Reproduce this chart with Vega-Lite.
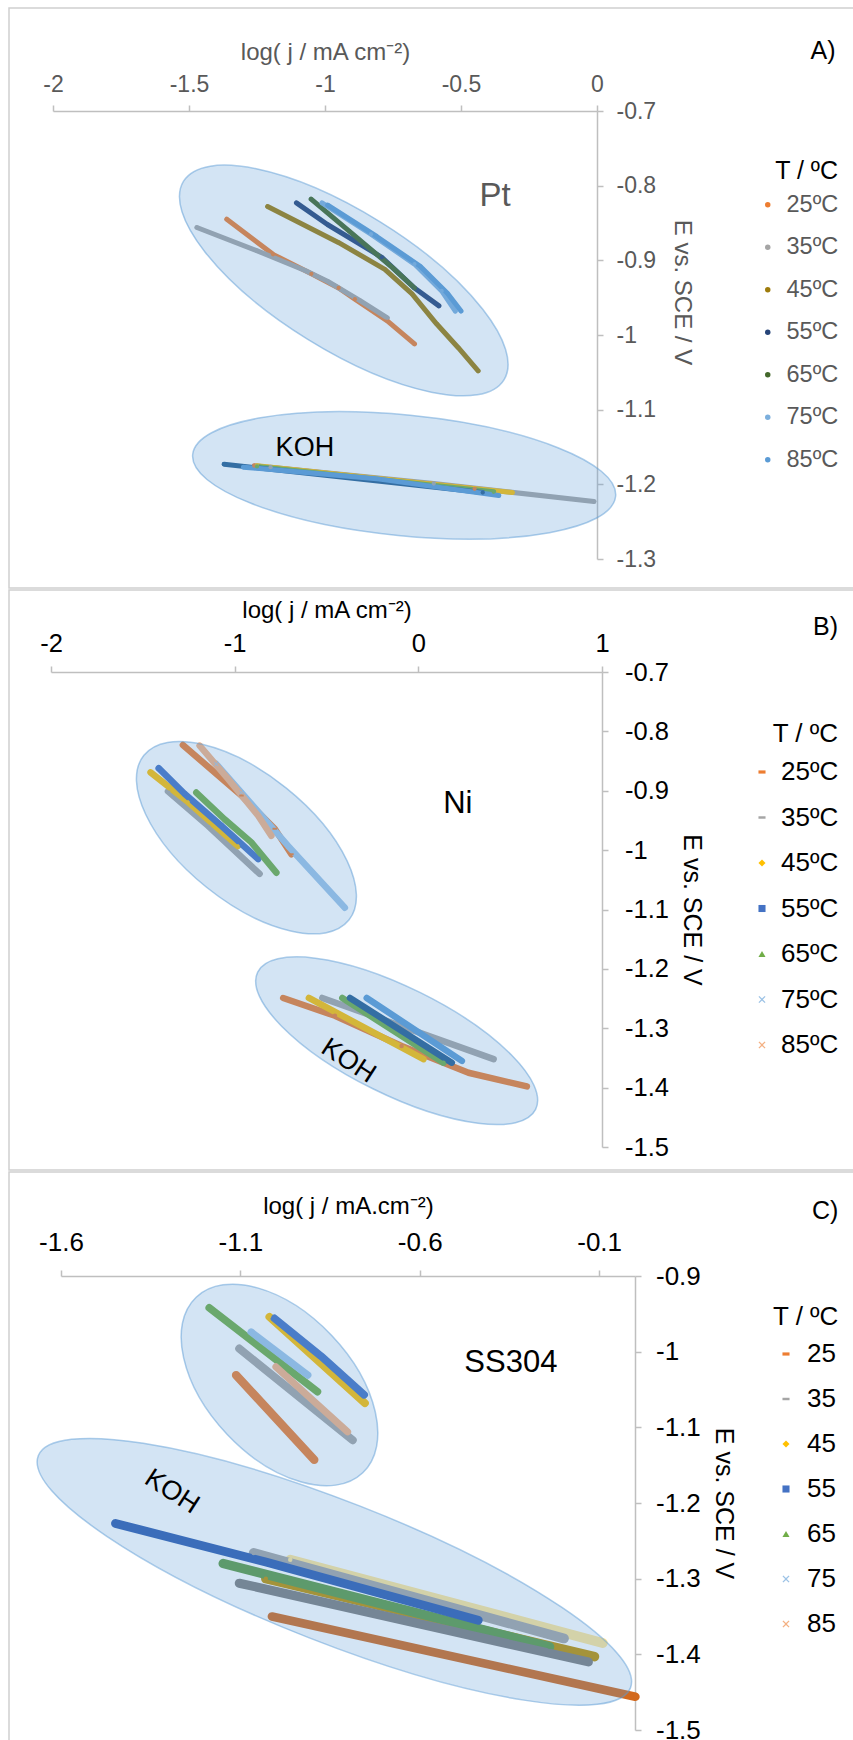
{
  "$schema": "https://vega.github.io/schema/vega-lite/v6.json",
  "padding": {"left": 8, "top": 7, "right": 0, "bottom": 0},
  "background": "white",
  "spacing": 0,
  "resolve": {"scale": {"color": "independent", "stroke": "independent", "shape": "independent", "strokeWidth": "independent", "x": "independent", "y": "independent"}, "legend": {"color": "independent", "stroke": "independent", "shape": "independent", "strokeWidth": "independent"}},
  "config": {
    "font": "Liberation Sans",
    "view": {"stroke": "#D0D0D0", "strokeWidth": 1.5},
    "axis": {"grid": false, "domainColor": "#BFBFBF", "domainWidth": 1.5, "tickColor": "#BFBFBF", "tickWidth": 1.5, "tickSize": 6, "labelFont": "Liberation Sans", "titleFont": "Liberation Sans", "titleFontWeight": "normal", "labelFlush": false, "labelOverlap": false, "labelBound": false},
    "legend": {"labelFont": "Liberation Sans", "titleFont": "Liberation Sans", "titleFontWeight": "normal", "padding": 0, "direction": "vertical"}
  },
  "datasets": {
    "A": [
      {"s": "25ºC", "x": -1.361, "y": -0.845}, {"s": "25ºC", "x": -1.191, "y": -0.892}, {"s": "25ºC", "x": -1.05, "y": -0.918}, {"s": "25ºC", "x": -0.95, "y": -0.937}, {"s": "25ºC", "x": -0.89, "y": -0.952}, {"s": "25ºC", "x": -0.771, "y": -0.981}, {"s": "25ºC", "x": -0.671, "y": -1.012},
      {"s": "35ºC", "x": -1.471, "y": -0.856}, {"s": "35ºC", "x": -1.251, "y": -0.887}, {"s": "35ºC", "x": -1.071, "y": -0.914}, {"s": "35ºC", "x": -0.991, "y": -0.928}, {"s": "35ºC", "x": -0.871, "y": -0.954}, {"s": "35ºC", "x": -0.771, "y": -0.977},
      {"s": "45ºC", "x": -1.211, "y": -0.828}, {"s": "45ºC", "x": -0.951, "y": -0.876}, {"s": "45ºC", "x": -0.78, "y": -0.912}, {"s": "45ºC", "x": -0.68, "y": -0.945}, {"s": "45ºC", "x": -0.59, "y": -0.985}, {"s": "45ºC", "x": -0.51, "y": -1.017}, {"s": "45ºC", "x": -0.437, "y": -1.048},
      {"s": "55ºC", "x": -1.105, "y": -0.823}, {"s": "55ºC", "x": -0.991, "y": -0.852}, {"s": "55ºC", "x": -0.791, "y": -0.896}, {"s": "55ºC", "x": -0.671, "y": -0.937}, {"s": "55ºC", "x": -0.581, "y": -0.961},
      {"s": "65ºC", "x": -1.051, "y": -0.818}, {"s": "65ºC", "x": -0.911, "y": -0.861}, {"s": "65ºC", "x": -0.751, "y": -0.91}, {"s": "65ºC", "x": -0.671, "y": -0.937},
      {"s": "75ºC", "x": -1.011, "y": -0.823}, {"s": "75ºC", "x": -0.831, "y": -0.865}, {"s": "75ºC", "x": -0.671, "y": -0.905}, {"s": "75ºC", "x": -0.571, "y": -0.941}, {"s": "75ºC", "x": -0.521, "y": -0.968},
      {"s": "85ºC", "x": -0.99, "y": -0.826}, {"s": "85ºC", "x": -0.81, "y": -0.868}, {"s": "85ºC", "x": -0.65, "y": -0.908}, {"s": "85ºC", "x": -0.55, "y": -0.944}, {"s": "85ºC", "x": -0.5, "y": -0.968},
      {"s": "KA35", "x": -1.2, "y": -1.177}, {"s": "KA35", "x": -0.6, "y": -1.199}, {"s": "KA35", "x": -0.011, "y": -1.223},
      {"s": "KA25", "x": -1.26, "y": -1.175}, {"s": "KA25", "x": -0.45, "y": -1.206},
      {"s": "KA45", "x": -1.25, "y": -1.175}, {"s": "KA45", "x": -0.311, "y": -1.211},
      {"s": "KA65", "x": -1.25, "y": -1.176}, {"s": "KA65", "x": -0.38, "y": -1.21},
      {"s": "KA55", "x": -1.371, "y": -1.173}, {"s": "KA55", "x": -0.42, "y": -1.211},
      {"s": "KA85", "x": -1.3, "y": -1.177}, {"s": "KA85", "x": -0.8, "y": -1.193}, {"s": "KA85", "x": -0.361, "y": -1.215}
    ],
    "B": [
      {"s": "25ºC", "x": -1.282, "y": -0.823}, {"s": "25ºC", "x": -0.963, "y": -0.908}, {"s": "25ºC", "x": -0.782, "y": -0.964}, {"s": "25ºC", "x": -0.691, "y": -1.007},
      {"s": "35ºC", "x": -1.363, "y": -0.901}, {"s": "35ºC", "x": -1.145, "y": -0.959}, {"s": "35ºC", "x": -0.864, "y": -1.04},
      {"s": "45ºC", "x": -1.458, "y": -0.869}, {"s": "45ºC", "x": -1.254, "y": -0.919}, {"s": "45ºC", "x": -0.982, "y": -0.993},
      {"s": "55ºC", "x": -1.414, "y": -0.862}, {"s": "55ºC", "x": -1.273, "y": -0.905}, {"s": "55ºC", "x": -1.073, "y": -0.959}, {"s": "55ºC", "x": -0.872, "y": -1.015},
      {"s": "65ºC", "x": -1.209, "y": -0.903}, {"s": "65ºC", "x": -1.055, "y": -0.948}, {"s": "65ºC", "x": -0.909, "y": -0.987}, {"s": "65ºC", "x": -0.773, "y": -1.038},
      {"s": "75ºC", "x": -1.1, "y": -0.855}, {"s": "75ºC", "x": -0.963, "y": -0.903}, {"s": "75ºC", "x": -0.709, "y": -0.993}, {"s": "75ºC", "x": -0.4, "y": -1.097},
      {"s": "85ºC", "x": -1.191, "y": -0.824}, {"s": "85ºC", "x": -1.036, "y": -0.88}, {"s": "85ºC", "x": -0.872, "y": -0.942}, {"s": "85ºC", "x": -0.8, "y": -0.976},
      {"s": "KB25", "x": -0.736, "y": -1.249}, {"s": "KB25", "x": -0.454, "y": -1.279}, {"s": "KB25", "x": -0.091, "y": -1.33}, {"s": "KB25", "x": 0.273, "y": -1.375}, {"s": "KB25", "x": 0.591, "y": -1.398},
      {"s": "KB35", "x": -0.523, "y": -1.249}, {"s": "KB35", "x": 0.41, "y": -1.352},
      {"s": "KB45", "x": -0.596, "y": -1.249}, {"s": "KB45", "x": 0.028, "y": -1.352},
      {"s": "KB65", "x": -0.414, "y": -1.249}, {"s": "KB65", "x": 0.137, "y": -1.358},
      {"s": "KB55", "x": -0.372, "y": -1.249}, {"s": "KB55", "x": 0.182, "y": -1.358},
      {"s": "KB85", "x": -0.281, "y": -1.249}, {"s": "KB85", "x": 0.237, "y": -1.355}
    ],
    "C": [
      {"s": "25", "x": -1.112, "y": -1.031}, {"s": "25", "x": -0.894, "y": -1.143},
      {"s": "35", "x": -1.103, "y": -0.996}, {"s": "35", "x": -0.787, "y": -1.117},
      {"s": "45", "x": -1.019, "y": -0.954}, {"s": "45", "x": -0.753, "y": -1.068},
      {"s": "55", "x": -1.005, "y": -0.956}, {"s": "55", "x": -0.875, "y": -1.006}, {"s": "55", "x": -0.755, "y": -1.057},
      {"s": "65", "x": -1.187, "y": -0.942}, {"s": "65", "x": -0.885, "y": -1.053},
      {"s": "75", "x": -1.07, "y": -0.974}, {"s": "75", "x": -0.912, "y": -1.031},
      {"s": "85", "x": -1.001, "y": -1.02}, {"s": "85", "x": -0.801, "y": -1.106},
      {"s": "Kpale", "x": -0.961, "y": -1.275}, {"s": "Kpale", "x": -0.09, "y": -1.385},
      {"s": "K35c", "x": -1.063, "y": -1.266}, {"s": "K35c", "x": -0.198, "y": -1.379},
      {"s": "Kdy", "x": -1.029, "y": -1.3}, {"s": "Kdy", "x": -0.113, "y": -1.403},
      {"s": "K65c", "x": -1.148, "y": -1.28}, {"s": "K65c", "x": -0.238, "y": -1.39},
      {"s": "Ktri", "x": -1.103, "y": -1.306}, {"s": "Ktri", "x": -0.13, "y": -1.41},
      {"s": "K55x", "x": -1.448, "y": -1.227}, {"s": "K55x", "x": -1.029, "y": -1.278}, {"s": "K55x", "x": -0.437, "y": -1.355},
      {"s": "K25", "x": -1.012, "y": -1.35}, {"s": "K25", "x": 0.001, "y": -1.456}
    ]
  },
  "vconcat": [
    {
      "width": 850, "height": 580,
      "encoding": {
        "x": {"field": "x", "type": "quantitative", "scale": {"domain": [-2, 0], "range": [44, 588], "nice": false, "zero": false},
          "axis": {"orient": "top", "offset": -103, "values": [-2, -1.5, -1, -0.5, 0], "labelExpr": "toString(datum.value)", "labelFontSize": 23, "labelColor": "#595959", "labelPadding": 9, "title": "log( j / mA cm⁻²)", "titleFontSize": 24, "titleColor": "#595959", "titlePadding": 9}},
        "y": {"field": "y", "type": "quantitative", "scale": {"domain": [-1.3, -0.7], "range": [551, 103], "nice": false, "zero": false},
          "axis": {"orient": "right", "offset": -262, "values": [-0.7, -0.8, -0.9, -1, -1.1, -1.2, -1.3], "labelExpr": "toString(datum.value)", "labelFontSize": 23, "labelColor": "#595959", "labelPadding": 13, "title": "E vs. SCE / V", "titleFontSize": 24, "titleColor": "#595959", "titlePadding": 12, "titleX": 72, "titleY": 284}}
      },
      "layer": [
        {"data": {"name": "A"}, "mark": {"type": "line", "strokeWidth": 5, "strokeCap": "round", "strokeJoin": "round"},
          "encoding": {"stroke": {"field": "s", "type": "nominal", "legend": null, "scale": {"domain": ["KA25", "KA35", "KA45", "KA65", "KA55", "KA85", "25ºC", "35ºC", "45ºC", "55ºC", "65ºC", "75ºC", "85ºC"], "range": ["#ED7D31", "#A5A5A5", "#FFC000", "#70AD47", "#255E91", "#5B9BD5", "#ED7D31", "#A5A5A5", "#9E7C0C", "#264478", "#43682B", "#7CAFDD", "#5B9BD5"]}}}},
        {"data": {"name": "A"}, "mark": {"type": "point", "filled": true, "opacity": 1, "size": 18, "shape": "circle"},
          "encoding": {"color": {"field": "s", "type": "nominal", "scale": {"domain": ["25ºC", "35ºC", "45ºC", "55ºC", "65ºC", "75ºC", "85ºC", "KA25", "KA35", "KA45", "KA65", "KA55", "KA85"], "range": ["#ED7D31", "#A5A5A5", "#9E7C0C", "#264478", "#43682B", "#7CAFDD", "#5B9BD5", "#ED7D31", "#A5A5A5", "#FFC000", "#70AD47", "#255E91", "#5B9BD5"]},
            "legend": {"title": "T / ºC", "orient": "none", "legendX": 747, "legendY": 151, "values": ["25ºC", "35ºC", "45ºC", "55ºC", "65ºC", "75ºC", "85ºC"], "titleFontSize": 25, "titleColor": "#000000", "titleAnchor": "end", "labelFontSize": 23.5, "labelColor": "#595959", "symbolSize": 30, "rowPadding": 17.5, "titlePadding": 9, "labelOffset": 7}}}},
        {"data": {"values": [{"x": -0.931, "y": -0.927}]}, "mark": {"type": "point", "shape": "M-1,0C-1,-0.2021,-0.5523,-0.366,0,-0.366C0.5523,-0.366,1,-0.2021,1,0C1,0.2021,0.5523,0.366,0,0.366C-0.5523,0.366,-1,0.2021,-1,0Z", "size": 142129, "angle": 31.8, "filled": true, "fill": "#5B9BD5", "fillOpacity": 0.27, "stroke": "#5B9BD5", "strokeOpacity": 0.5, "strokeWidth": 1.5, "opacity": 1}},
        {"data": {"values": [{"x": -0.709, "y": -1.188}]}, "mark": {"type": "point", "shape": "M-1,0C-1,-0.1569,-0.5523,-0.284,0,-0.284C0.5523,-0.284,1,-0.1569,1,0C1,0.1569,0.5523,0.284,0,0.284C-0.5523,0.284,-1,0.1569,-1,0Z", "size": 180625, "angle": 5.65, "filled": true, "fill": "#5B9BD5", "fillOpacity": 0.27, "stroke": "#5B9BD5", "strokeOpacity": 0.5, "strokeWidth": 1.5, "opacity": 1}},
        {"data": {"values": [{"x": 0.831, "y": -0.62, "t": "A)"}]}, "mark": {"type": "text", "fontSize": 25, "color": "#000000", "align": "center", "baseline": "middle"}, "encoding": {"text": {"field": "t"}}},
        {"data": {"values": [{"x": -0.375, "y": -0.814, "t": "Pt"}]}, "mark": {"type": "text", "fontSize": 33, "color": "#595959", "align": "center", "baseline": "middle"}, "encoding": {"text": {"field": "t"}}},
        {"data": {"values": [{"x": -1.074, "y": -1.151, "t": "KOH"}]}, "mark": {"type": "text", "fontSize": 27, "color": "#000000", "align": "center", "baseline": "middle"}, "encoding": {"text": {"field": "t"}}}
      ]
    },
    {
      "width": 850, "height": 580,
      "encoding": {
        "x": {"field": "x", "type": "quantitative", "scale": {"domain": [-2, 1], "range": [42, 593], "nice": false, "zero": false},
          "axis": {"orient": "top", "offset": -82, "values": [-2, -1, 0, 1], "labelExpr": "toString(datum.value)", "labelFontSize": 25.5, "labelColor": "#000000", "labelPadding": 10, "title": "log( j / mA cm⁻²)", "titleFontSize": 24, "titleColor": "#000000", "titlePadding": 9}},
        "y": {"field": "y", "type": "quantitative", "scale": {"domain": [-1.5, -0.7], "range": [557, 82], "nice": false, "zero": false},
          "axis": {"orient": "right", "offset": -257, "values": [-0.7, -0.8, -0.9, -1, -1.1, -1.2, -1.3, -1.4, -1.5], "labelExpr": "toString(datum.value)", "labelFontSize": 25.5, "labelColor": "#000000", "labelPadding": 16.5, "title": "E vs. SCE / V", "titleFontSize": 25, "titleColor": "#000000", "titlePadding": 10.5}}
      },
      "layer": [
        {"data": {"name": "B"}, "mark": {"type": "line", "strokeWidth": 6.5, "strokeCap": "round", "strokeJoin": "round"},
          "encoding": {"stroke": {"field": "s", "type": "nominal", "legend": null, "scale": {"domain": ["KB25", "KB35", "KB45", "KB65", "KB55", "KB85", "25ºC", "35ºC", "45ºC", "55ºC", "65ºC", "75ºC", "85ºC"], "range": ["#ED7D31", "#A5A5A5", "#FFC000", "#70AD47", "#255E91", "#5B9BD5", "#ED7D31", "#A5A5A5", "#FFC000", "#4472C4", "#70AD47", "#9DC3E6", "#F4B183"]}}}},
        {"data": {"name": "B"}, "mark": {"type": "point", "filled": true, "opacity": 1, "size": 20},
          "encoding": {
            "color": {"field": "s", "type": "nominal", "scale": {"domain": ["25ºC", "35ºC", "45ºC", "55ºC", "65ºC", "75ºC", "85ºC", "KB25", "KB35", "KB45", "KB65", "KB55", "KB85"], "range": ["#ED7D31", "#A5A5A5", "#FFC000", "#4472C4", "#70AD47", "#9DC3E6", "#F4B183", "#ED7D31", "#A5A5A5", "#FFC000", "#70AD47", "#255E91", "#5B9BD5"]},
              "legend": {"title": "T / ºC", "orient": "none", "legendX": 740, "legendY": 131, "values": ["25ºC", "35ºC", "45ºC", "55ºC", "65ºC", "75ºC", "85ºC"], "titleFontSize": 26, "titleColor": "#000000", "titleAnchor": "end", "labelFontSize": 26, "labelColor": "#000000", "symbolSize": 50, "rowPadding": 19.5, "titlePadding": 12, "labelOffset": 6}},
            "shape": {"field": "s", "type": "nominal", "scale": {"domain": ["25ºC", "35ºC", "45ºC", "55ºC", "65ºC", "75ºC", "85ºC", "KB25", "KB35", "KB45", "KB65", "KB55", "KB85"], "range": ["M-1,-0.45L1,-0.45L1,0.45L-1,0.45Z", "M-1,-0.35L1,-0.35L1,0.35L-1,0.35Z", "diamond", "square", "triangle-up", "M-1,-0.75L-0.75,-1L0,-0.25L0.75,-1L1,-0.75L0.25,0L1,0.75L0.75,1L0,0.25L-0.75,1L-1,0.75L-0.25,0Z", "M-1,-0.75L-0.75,-1L0,-0.25L0.75,-1L1,-0.75L0.25,0L1,0.75L0.75,1L0,0.25L-0.75,1L-1,0.75L-0.25,0Z", "circle", "circle", "circle", "circle", "circle", "circle"]},
              "legend": {"title": "T / ºC", "orient": "none", "legendX": 740, "legendY": 131, "values": ["25ºC", "35ºC", "45ºC", "55ºC", "65ºC", "75ºC", "85ºC"], "titleFontSize": 26, "titleColor": "#000000", "titleAnchor": "end", "labelFontSize": 26, "labelColor": "#000000", "symbolSize": 50, "rowPadding": 19.5, "titlePadding": 12, "labelOffset": 6}}
          }},
        {"data": {"values": [{"x": -0.936, "y": -0.979}]}, "mark": {"type": "point", "shape": "M-1,0C-1,-0.2673,-0.5523,-0.484,0,-0.484C0.5523,-0.484,1,-0.2673,1,0C1,0.2673,0.5523,0.484,0,0.484C-0.5523,0.484,-1,0.2673,-1,0Z", "size": 69169, "angle": 38.8, "filled": true, "fill": "#5B9BD5", "fillOpacity": 0.27, "stroke": "#5B9BD5", "strokeOpacity": 0.5, "strokeWidth": 1.5, "opacity": 1}},
        {"data": {"values": [{"x": -0.118, "y": -1.321}]}, "mark": {"type": "point", "shape": "M-1,0C-1,-0.1911,-0.5523,-0.346,0,-0.346C0.5523,-0.346,1,-0.1911,1,0C1,0.1911,0.5523,0.346,0,0.346C-0.5523,0.346,-1,0.1911,-1,0Z", "size": 96100, "angle": 26.3, "filled": true, "fill": "#5B9BD5", "fillOpacity": 0.27, "stroke": "#5B9BD5", "strokeOpacity": 0.5, "strokeWidth": 1.5, "opacity": 1}},
        {"data": {"values": [{"x": 2.217, "y": -0.624, "t": "B)"}]}, "mark": {"type": "text", "fontSize": 25, "color": "#000000", "align": "center", "baseline": "middle"}, "encoding": {"text": {"field": "t"}}},
        {"data": {"values": [{"x": 0.215, "y": -0.923, "t": "Ni"}]}, "mark": {"type": "text", "fontSize": 31, "color": "#000000", "align": "center", "baseline": "middle"}, "encoding": {"text": {"field": "t"}}},
        {"data": {"values": [{"x": -0.381, "y": -1.355, "t": "KOH"}]}, "mark": {"type": "text", "fontSize": 27, "angle": 33, "color": "#000000", "align": "center", "baseline": "middle"}, "encoding": {"text": {"field": "t"}}}
      ]
    },
    {
      "width": 850, "height": 580,
      "encoding": {
        "x": {"field": "x", "type": "quantitative", "scale": {"domain": [-1.6, 0], "range": [52, 626], "nice": false, "zero": false},
          "axis": {"orient": "top", "offset": -104, "values": [-1.6, -1.1, -0.6, -0.1], "labelExpr": "toString(datum.value)", "labelFontSize": 26, "labelColor": "#000000", "labelPadding": 14.5, "title": "log( j / mA.cm⁻²)", "titleFontSize": 24, "titleColor": "#000000", "titlePadding": 11}},
        "y": {"field": "y", "type": "quantitative", "scale": {"domain": [-1.5, -0.9], "range": [558, 104], "nice": false, "zero": false},
          "axis": {"orient": "right", "offset": -224, "values": [-0.9, -1, -1.1, -1.2, -1.3, -1.4, -1.5], "labelExpr": "toString(datum.value)", "labelFontSize": 26, "labelColor": "#000000", "labelPadding": 14.5, "title": "E vs. SCE / V", "titleFontSize": 25, "titleColor": "#000000", "titlePadding": 10.5}}
      },
      "layer": [
        {"data": {"name": "C"}, "mark": {"type": "line", "strokeCap": "round", "strokeJoin": "round"},
          "encoding": {
            "stroke": {"field": "s", "type": "nominal", "legend": null, "scale": {"domain": ["Kpale", "K35c", "Kdy", "K65c", "Ktri", "K55x", "K25", "25", "35", "45", "55", "65", "75", "85"], "range": ["#FFE699", "#A5A5A5", "#BF9000", "#5E9A45", "#7F7F7F", "#2F5DB0", "#D2691E", "#ED7D31", "#A5A5A5", "#FFC000", "#4472C4", "#70AD47", "#9DC3E6", "#F4B183"]}},
            "strokeWidth": {"field": "s", "type": "ordinal", "legend": null, "scale": {"domain": ["85", "75", "65", "55", "45", "35", "25", "K25", "K55x", "Ktri", "K65c", "Kdy", "K35c", "Kpale"], "range": [7, 10, 6, 9, 7, 5, 10, 7, 4, 6, 7, 6, 6, 7]}}
          }},
        {"data": {"name": "C"}, "mark": {"type": "point", "filled": true, "opacity": 1, "size": 20},
          "encoding": {
            "color": {"field": "s", "type": "nominal", "scale": {"domain": ["25", "35", "45", "55", "65", "75", "85", "Kpale", "K35c", "Kdy", "K65c", "Ktri", "K55x", "K25"], "range": ["#ED7D31", "#A5A5A5", "#FFC000", "#4472C4", "#70AD47", "#9DC3E6", "#F4B183", "#FFE699", "#A5A5A5", "#BF9000", "#5E9A45", "#7F7F7F", "#2F5DB0", "#D2691E"]},
              "legend": {"title": "T / ºC", "orient": "none", "legendX": 764, "legendY": 132, "values": ["25", "35", "45", "55", "65", "75", "85"], "titleFontSize": 26, "titleColor": "#000000", "labelFontSize": 26, "labelColor": "#000000", "symbolSize": 50, "rowPadding": 19, "titlePadding": 11, "labelOffset": 8}},
            "shape": {"field": "s", "type": "nominal", "scale": {"domain": ["25", "35", "45", "55", "65", "75", "85", "Kpale", "K35c", "Kdy", "K65c", "Ktri", "K55x", "K25"], "range": ["M-1,-0.45L1,-0.45L1,0.45L-1,0.45Z", "M-1,-0.35L1,-0.35L1,0.35L-1,0.35Z", "diamond", "square", "triangle-up", "M-1,-0.75L-0.75,-1L0,-0.25L0.75,-1L1,-0.75L0.25,0L1,0.75L0.75,1L0,0.25L-0.75,1L-1,0.75L-0.25,0Z", "M-1,-0.75L-0.75,-1L0,-0.25L0.75,-1L1,-0.75L0.25,0L1,0.75L0.75,1L0,0.25L-0.75,1L-1,0.75L-0.25,0Z", "circle", "circle", "circle", "circle", "triangle-up", "M-1,-0.75L-0.75,-1L0,-0.25L0.75,-1L1,-0.75L0.25,0L1,0.75L0.75,1L0,0.25L-0.75,1L-1,0.75L-0.25,0Z", "square"]},
              "legend": {"title": "T / ºC", "orient": "none", "legendX": 764, "legendY": 132, "values": ["25", "35", "45", "55", "65", "75", "85"], "titleFontSize": 26, "titleColor": "#000000", "labelFontSize": 26, "labelColor": "#000000", "symbolSize": 50, "rowPadding": 19, "titlePadding": 11, "labelOffset": 8}}
          }},
        {"data": {"values": [{"x": -0.991, "y": -1.044}]}, "mark": {"type": "point", "shape": "M-1,0C-1,-0.3286,-0.5523,-0.595,0,-0.595C0.5523,-0.595,1,-0.3286,1,0C1,0.3286,0.5523,0.595,0,0.595C-0.5523,0.595,-1,0.3286,-1,0Z", "size": 58564, "angle": 46.5, "filled": true, "fill": "#5B9BD5", "fillOpacity": 0.27, "stroke": "#5B9BD5", "strokeOpacity": 0.5, "strokeWidth": 1.5, "opacity": 1}},
        {"data": {"values": [{"x": -0.838, "y": -1.291}]}, "mark": {"type": "point", "shape": "M-1,0C-1,-0.1226,-0.5523,-0.222,0,-0.222C0.5523,-0.222,1,-0.1226,1,0C1,0.1226,0.5523,0.222,0,0.222C-0.5523,0.222,-1,0.1226,-1,0Z", "size": 404496, "angle": 21.4, "filled": true, "fill": "#5B9BD5", "fillOpacity": 0.27, "stroke": "#5B9BD5", "strokeOpacity": 0.5, "strokeWidth": 1.5, "opacity": 1}},
        {"data": {"values": [{"x": 0.53, "y": -0.814, "t": "C)"}]}, "mark": {"type": "text", "fontSize": 25, "color": "#000000", "align": "center", "baseline": "middle"}, "encoding": {"text": {"field": "t"}}},
        {"data": {"values": [{"x": -0.346, "y": -1.015, "t": "SS304"}]}, "mark": {"type": "text", "fontSize": 31, "color": "#000000", "align": "center", "baseline": "middle"}, "encoding": {"text": {"field": "t"}}},
        {"data": {"values": [{"x": -1.291, "y": -1.185, "t": "KOH"}]}, "mark": {"type": "text", "fontSize": 27, "angle": 33, "color": "#000000", "align": "center", "baseline": "middle"}, "encoding": {"text": {"field": "t"}}}
      ]
    }
  ]
}
